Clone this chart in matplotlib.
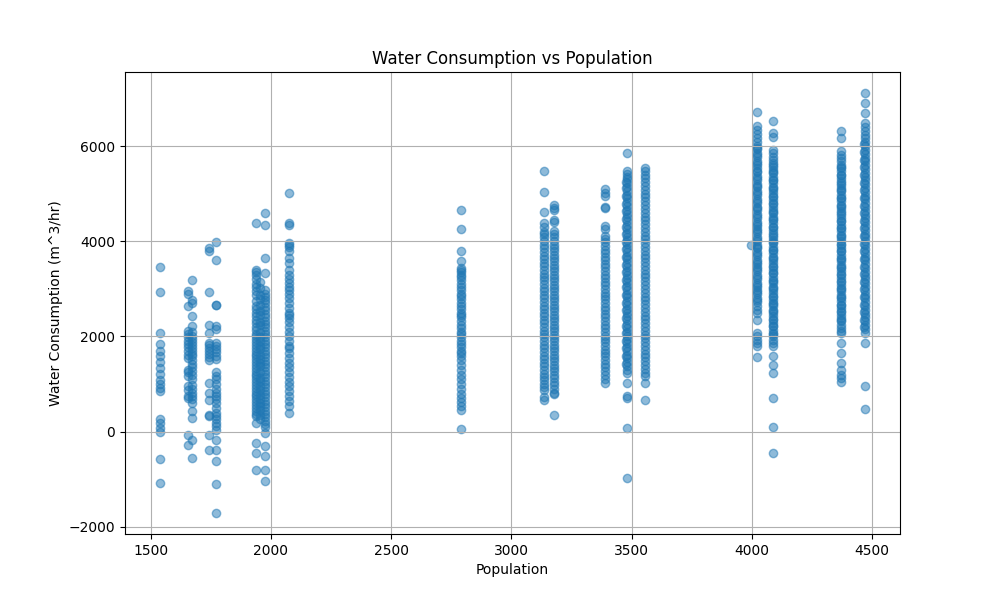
import matplotlib
matplotlib.use('Agg')
import matplotlib.pyplot as plt

# poblacion de cada columna y consumos (m^3/hr)
pop_1540 = [3460, 2935, 2073, 1849, 1687, 1582, 1456, 1338, 1212, 1092, 1008, 918, 847, 266, 182, 77, -7, -574, -1078]
pop_1655 = [2948, 2900, 2633, 2107, 2050, 1980, 1900, 1850, 1780, 1700, 1620, 1540, 1300, 1250, 1180, 952, 880, 742, 700, -77, -273]
pop_1673 = [3193, 2773, 2700, 2422, 2212, 2100, 2000, 1950, 1880, 1820, 1760, 1700, 1640, 1580, 1500, 1420, 1350,
            1280, 1200, 1100, 980, 900, 820, 750, 680, 603, 427, 287, -168, -553]
pop_1742 = [3859, 3788, 2935, 2248, 2073, 1870, 1820, 1760, 1700, 1640, 1560, 1500, 1023, 813, 672, 357, 330, -77, -392]
pop_1774 = [3985, 3613, 2668, 2660, 2212, 2150, 1870, 1800, 1740, 1680, 1600, 1520, 1250, 1180, 1100, 1000, 900,
            820, 740, 680, 600, 500, 392, 330, 260, 180, 120, 42, -168, -378, -609, -1092, -1708]
pop_1940 = [4384, 3403, 3350, 3300, 3200, 3100, 3050, 2950, 2880, 2750, 2650, 2580, 2500, 2420, 2350, 2280, 2200,
            2130, 2060, 2000, 1940, 1880, 1820, 1760, 1700, 1640, 1580, 1520, 1460, 1400, 1340, 1280, 1220, 1160,
            1100, 1040, 980, 920, 860, 800, 740, 680, 620, 560, 500, 440, 380, 320, 182, -238, -448, -813]
pop_1957 = [3150, 3010, 2870, 2790, 2660, 2540, 2450, 2310, 2240, 2090, 1990, 1910, 1790, 1730, 1610, 1530, 1440,
            1370, 1250, 1130, 1060, 950, 880, 770, 690, 610, 530, 450, 350, 260]
pop_1974 = [4594, 4349, 3648, 3334, 2983, 2900, 2820, 2760, 2700, 2620, 2550, 2480, 2400, 2330, 2260, 2190, 2120,
            2050, 1980, 1910, 1840, 1770, 1700, 1630, 1560, 1490, 1420, 1350, 1280, 1210, 1140, 1070, 1000, 930,
            860, 790, 720, 650, 580, 510, 440, 370, 300, 230, 160, 90, -28, -308, -518, -798, -1043]
pop_2075 = [5015, 4384, 4350, 3964, 3930, 3880, 3788, 3650, 3544, 3400, 3300, 3200, 3120, 3050, 2980, 2900, 2800,
            2700, 2600, 2500, 2450, 2380, 2300, 2200, 2100, 2000, 1900, 1800, 1750, 1650, 1550, 1450, 1350, 1250,
            1150, 1050, 950, 850, 750, 650, 550, 392]
pop_2792 = [4650, 4258, 3803, 3578, 3439, 3400, 3350, 3300, 3250, 3180, 3100, 3050, 2980, 2900, 2850, 2780, 2700,
            2650, 2580, 2500, 2450, 2400, 2320, 2250, 2180, 2100, 2050, 1980, 1900, 1850, 1780, 1700, 1650, 1580,
            1500, 1400, 1300, 1200, 1100, 1000, 900, 800, 700, 620, 540, 462, 63]
pop_3134 = [5469, 5035, 4615, 4384, 4300, 4200, 4150, 4080, 4000, 3920, 3850, 3780, 3700, 3620, 3550, 3480, 3400,
            3320, 3250, 3180, 3100, 3020, 2950, 2880, 2800, 2720, 2650, 2580, 2500, 2420, 2350, 2280, 2200, 2120,
            2050, 1980, 1900, 1820, 1750, 1680, 1600, 1520, 1450, 1380, 1300, 1220, 1150, 1080, 1000, 930, 882,
            720, 672]
pop_3176 = [4769, 4700, 4664, 4454, 4400, 4209, 4150, 4080, 4000, 3930, 3860, 3790, 3720, 3650, 3580, 3510, 3440,
            3370, 3300, 3230, 3160, 3090, 3020, 2950, 2880, 2810, 2740, 2670, 2600, 2530, 2460, 2390, 2320, 2250,
            2180, 2110, 2040, 1970, 1900, 1830, 1760, 1690, 1620, 1550, 1480, 1410, 1340, 1270, 1200, 1130, 1050,
            980, 900, 813, 792, 357]
pop_3388 = [5099, 5020, 4950, 4720, 4699, 4314, 4250, 4104, 4050, 3980, 3900, 3820, 3750, 3680, 3600, 3520, 3450,
            3380, 3300, 3220, 3150, 3080, 3000, 2920, 2850, 2780, 2700, 2620, 2550, 2480, 2400, 2320, 2250, 2180,
            2100, 2020, 1950, 1880, 1800, 1720, 1650, 1580, 1500, 1420, 1350, 1280, 1200, 1100, 1023]
pop_3480 = [5850, 5470, 5420, 5360, 5300, 5220, 5140, 5060, 4980, 4900, 4820, 4740, 4660, 4580, 4500, 4420, 4340,
            4260, 4180, 4100, 4020, 3940, 3860, 3780, 3700, 3620, 3540, 3460, 3380, 3300, 3220, 3140, 3060, 2980,
            2900, 2820, 2740, 2660, 2580, 2500, 2420, 2340, 2260, 2180, 2100, 2020, 1940, 1860, 1780, 1700, 1620,
            1540, 1460, 1380, 1300, 1233, 1023, 742, 700, 77, -973]
pop_3476 = [5250, 5110, 4950, 4790, 4630, 4470, 4310, 4150, 3990, 3830, 3670, 3510, 3350, 3190, 3030, 2870, 2710,
            2550, 2390, 2230, 2070, 1910, 1750, 1590, 1430]
pop_3558 = [5540, 5480, 5400, 5320, 5240, 5160, 5080, 5000, 4920, 4840, 4760, 4680, 4600, 4520, 4440, 4360, 4280,
            4200, 4120, 4040, 3960, 3880, 3800, 3720, 3640, 3560, 3480, 3400, 3320, 3240, 3160, 3080, 3000, 2920,
            2840, 2760, 2680, 2600, 2520, 2440, 2360, 2280, 2200, 2120, 2040, 1960, 1880, 1800, 1720, 1640, 1560,
            1480, 1400, 1320, 1240, 1162, 1023, 672]
pop_3997 = [3922]
pop_4023 = [6716, 6414, 6330, 6250, 6170, 6090, 6010, 5930, 5850, 5770, 5690, 5610, 5530, 5450, 5370, 5290, 5210,
            5130, 5050, 4970, 4890, 4810, 4730, 4650, 4570, 4490, 4410, 4330, 4250, 4170, 4090, 4010, 3930, 3850,
            3770, 3690, 3610, 3530, 3450, 3370, 3290, 3210, 3130, 3050, 2970, 2890, 2810, 2730, 2650, 2563, 2493,
            2353, 2073, 2000, 1930, 1860, 1792, 1561]
pop_4021 = [5960, 5810, 5640, 5480, 5330, 5160, 5010, 4850, 4690, 4530, 4370, 4210, 4050, 3890, 3730, 3570, 3410,
            3250, 3090, 2930, 2770]
pop_4087 = [6534, 6275, 6200, 5924, 5850, 5780, 5710, 5640, 5570, 5500, 5430, 5360, 5290, 5220, 5150, 5080, 5010,
            4940, 4870, 4800, 4730, 4660, 4590, 4520, 4450, 4380, 4310, 4240, 4170, 4100, 4030, 3960, 3890, 3820,
            3750, 3680, 3610, 3540, 3470, 3400, 3330, 3260, 3190, 3120, 3050, 2980, 2910, 2840, 2770, 2700, 2630,
            2560, 2490, 2420, 2350, 2280, 2210, 2140, 2070, 2000, 1930, 1860, 1792, 1582, 1408, 1233, 708, 99, -448]
pop_4089 = [5610, 5450, 5290, 5110, 4960, 4790, 4620, 4470, 4300, 4140, 3980, 3810, 3650, 3490, 3330, 3170, 3010,
            2850, 2690, 2530, 2370, 2210, 2050]
pop_4372 = [6324, 6170, 5889, 5820, 5750, 5680, 5610, 5540, 5470, 5400, 5330, 5260, 5190, 5120, 5050, 4980, 4910,
            4840, 4770, 4700, 4630, 4560, 4490, 4420, 4350, 4280, 4210, 4140, 4070, 4000, 3930, 3860, 3790, 3720,
            3650, 3580, 3510, 3440, 3370, 3300, 3230, 3160, 3090, 3020, 2950, 2880, 2810, 2740, 2670, 2600, 2530,
            2460, 2390, 2320, 2250, 2180, 2120, 2073, 1863, 1653, 1443, 1302, 1200, 1120, 1050]
pop_4370 = [5560, 5390, 5230, 5070, 4910, 4750, 4590, 4430, 4270, 4110, 3950, 3790, 3630, 3470, 3310, 3150, 2990,
            2830, 2670, 2510, 2350]
pop_4470 = [7115, 6905, 6695, 6485, 6400, 6320, 6240, 6160, 6080, 6000, 5920, 5840, 5760, 5680, 5600, 5520, 5440,
            5360, 5280, 5200, 5120, 5040, 4960, 4880, 4800, 4720, 4640, 4560, 4480, 4400, 4320, 4240, 4160, 4080,
            4000, 3920, 3840, 3760, 3680, 3600, 3520, 3440, 3360, 3280, 3200, 3120, 3040, 2960, 2880, 2800, 2720,
            2640, 2560, 2480, 2400, 2320, 2240, 2160, 2073, 1863, 952, 477]
pop_4466 = [6050, 5880, 5710, 5550, 5390, 5230, 5070, 4910, 4750, 4590, 4430, 4270, 4110, 3950, 3790, 3630, 3470,
            3310, 3150, 2990, 2830, 2670, 2510, 2350, 2190]

columnas = {
    1540: pop_1540, 1655: pop_1655, 1673: pop_1673, 1742: pop_1742, 1774: pop_1774,
    1940: pop_1940, 1957: pop_1957, 1974: pop_1974, 2075: pop_2075, 2792: pop_2792,
    3134: pop_3134, 3176: pop_3176, 3388: pop_3388, 3476: pop_3476, 3480: pop_3480,
    3558: pop_3558, 3997: pop_3997, 4021: pop_4021, 4023: pop_4023, 4087: pop_4087,
    4089: pop_4089, 4370: pop_4370, 4372: pop_4372, 4466: pop_4466, 4470: pop_4470,
}

poblacion = []
consumo = []
for p, vals in columnas.items():
    poblacion += [p] * len(vals)
    consumo += vals

plt.figure(figsize=(10, 6))
plt.scatter(poblacion, consumo, alpha=0.5)
plt.xlabel('Population')
plt.ylabel('Water Consumption (m^3/hr)')
plt.title('Water Consumption vs Population')
plt.grid(True)

plt.savefig('out.png', dpi=100)
plt.close()
